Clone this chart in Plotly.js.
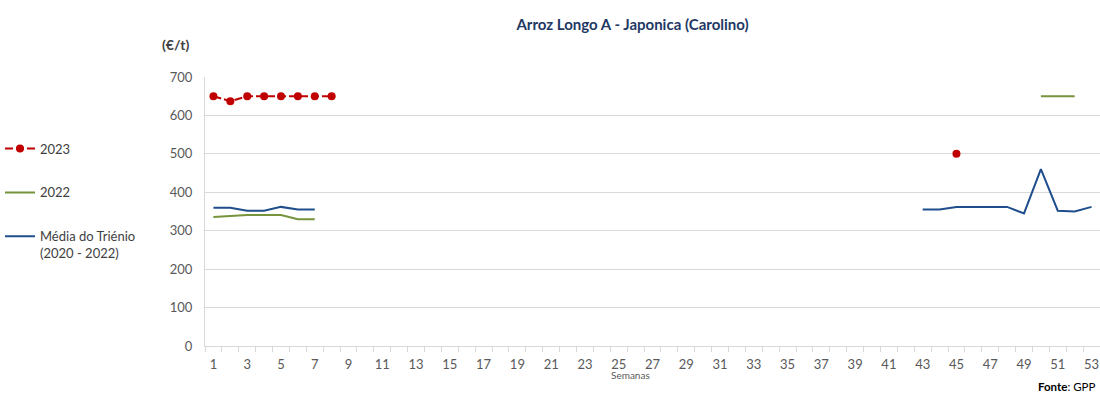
<!DOCTYPE html>
<html><head><meta charset="utf-8">
<script src="https://cdn.plot.ly/plotly-3.0.1.min.js"></script>
<style>body{margin:0;background:#fff}#c{width:1100px;height:394px}</style>
</head><body><div id="c"></div>
<script>
const weeks = Array.from({length:53},(_,i)=>i+1);
const tickWeeks = [1,3,5,7,9,11,13,15,17,19,21,23,25,27,29,31,33,35,37,39,41,43,45,47,49,51,53];
const s2023 = [650,637,650,650,650,650,650,650,null,null,null,null,null,null,null,null,null,null,null,null,null,null,null,null,null,null,null,null,null,null,null,null,null,null,null,null,null,null,null,null,null,null,null,null,500,null,null,null,null,null,null,null,null];
const s2022 = [336,338,341,341,341,330,330,null,null,null,null,null,null,null,null,null,null,null,null,null,null,null,null,null,null,null,null,null,null,null,null,null,null,null,null,null,null,null,null,null,null,null,null,null,null,null,null,null,null,650,650,650,null];
const sMedia = [360,360,352,352,362,355,355,null,null,null,null,null,null,null,null,null,null,null,null,null,null,null,null,null,null,null,null,null,null,null,null,null,null,null,null,null,null,null,null,null,null,null,355,355,362,362,362,362,345,460,352,350,362];
const names = ['2023','2022','Média do Triénio<br>(2020 - 2022)'];
const font = 'Lato, "Open Sans", sans-serif';
const traces = [
 {x:weeks,y:s2023,name:names[0],type:'scatter',mode:'lines+markers',legendgroup:'a',
  line:{color:'#C00000',width:2,dash:'8px,3px'},marker:{color:'#C00000',size:8}},
 {x:weeks,y:s2022,name:names[1],type:'scatter',mode:'lines',legendgroup:'b',
  line:{color:'#77933C',width:2}},
 {x:weeks,y:sMedia,name:names[2],type:'scatter',mode:'lines',legendgroup:'c',
  line:{color:'#1F4E8C',width:2}}
];
const layout = {
 width:1100,height:394,paper_bgcolor:'#fff',plot_bgcolor:'#fff',
 margin:{l:205,r:0,t:77,b:48},
 font:{family:font,color:'#595959',size:13},
 showlegend:true,
 legend:{xref:'container',yref:'container',x:0.0,y:0.661,xanchor:'left',yanchor:'top',
  traceorder:'grouped',tracegroupgap:24,valign:'top',font:{size:13,color:'#404040'},
  bgcolor:'rgba(0,0,0,0)',itemwidth:30},
 title:{text:'<b>Arroz Longo A - Japonica (Carolino)</b>',x:0.575,xanchor:'center',y:0.95,yref:'container',
  font:{size:15,color:'#1F3864',family:font}},
 xaxis:{range:[0.5,53.5],tickmode:'array',tickvals:tickWeeks,ticktext:tickWeeks.map(String),
  ticks:'',showgrid:false,showline:true,linecolor:'#D9D9D9',linewidth:1,zeroline:false,
  tickfont:{size:13,color:'#595959'},ticklabelstandoff:6,
  minor:{tick0:0.5,dtick:1,ticks:'outside',ticklen:5,tickcolor:'#D9D9D9',showgrid:false}},
 yaxis:{range:[0,700],dtick:100,showgrid:true,gridcolor:'#D9D9D9',gridwidth:1,
  showline:true,linecolor:'#D9D9D9',zeroline:false,ticks:'',ticklabelstandoff:9,
  tickfont:{size:13,color:'#595959'}},
 annotations:[
  {text:'<b>(€/t)</b>',xref:'paper',yref:'paper',x:-0.033,y:1.0,yshift:33,showarrow:false,xanchor:'center',yanchor:'middle',
   font:{size:14,color:'#404040'}},
  {text:'Semanas',xref:'paper',yref:'paper',x:0.475,y:0,yshift:-29,showarrow:false,xanchor:'center',yanchor:'middle',
   font:{size:10,color:'#595959'}},
  {text:'<b>Fonte</b>: GPP',xref:'paper',yref:'paper',x:0.998,y:0,yshift:-40,xanchor:'right',yanchor:'middle',showarrow:false,
   font:{size:11.5,color:'#000'}}
 ]
};
Plotly.newPlot('c',traces,layout,{displayModeBar:false,staticPlot:true});
</script></body></html>
